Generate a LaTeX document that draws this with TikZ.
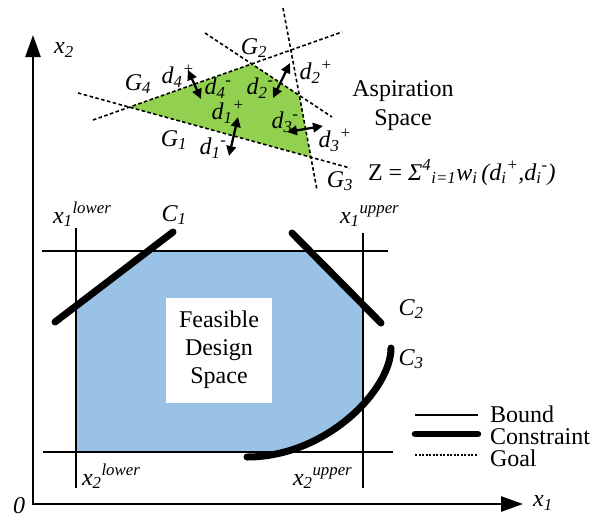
\documentclass[tikz,border=0pt]{standalone}
\usepackage{fontspec}
\setmainfont{Liberation Serif}
\usetikzlibrary{arrows.meta}
\definecolor{feas}{RGB}{153,194,230}
\definecolor{asp}{RGB}{146,208,80}
\begin{document}
\begin{tikzpicture}[x=1pt,y=-1pt,
  font=\fontsize{24}{28}\selectfont,
  bound/.style={line width=1.8pt},
  constr/.style={line width=7pt, line cap=round},
  goal/.style={line width=1.6pt, dash pattern=on 3.5pt off 2.5pt},
  axisline/.style={line width=2.6pt, line join=miter,
    {Triangle[length=22pt,width=15pt]}-{Triangle[length=22pt,width=15pt]}},
  dev/.style={line width=2.3pt,
    {Triangle[length=10pt,width=9.5pt]}-{Triangle[length=10pt,width=9.5pt]}},
  lbl/.style={inner sep=0pt, outer sep=0pt}]
\useasboundingbox (0,0) rectangle (608,520);

% ---------- coordinates ----------
\coordinate (O) at (33,504);
\coordinate (ytip) at (33,35);
\coordinate (xtip) at (523,504);
% bounds
\coordinate (uhL) at (42,251);  \coordinate (uhR) at (388,251);
\coordinate (lhL) at (43,452);  \coordinate (lhR) at (393,452);
\coordinate (lvT) at (76,228);  \coordinate (lvB) at (76,488);
\coordinate (rvT) at (363,233); \coordinate (rvB) at (363,488);
% constraints
\coordinate (c1a) at (55,322);  \coordinate (c1b) at (173,232);
\coordinate (c2a) at (292,233); \coordinate (c2b) at (381,323);
\coordinate (c3a) at (247,457); \coordinate (c3b) at (391,348);
% goals
\coordinate (g1a) at (78,93);   \coordinate (g1b) at (350,168);
\coordinate (g4a) at (93,120);  \coordinate (g4b) at (342,32);
\coordinate (g2a) at (205,33);  \coordinate (g2b) at (332,117);
\coordinate (g3a) at (283,8);   \coordinate (g3b) at (317,190);
\coordinate (v4) at (intersection of g1a--g1b and g4a--g4b);
\coordinate (v2) at (intersection of g4a--g4b and g2a--g2b);
\coordinate (v23) at (intersection of g2a--g2b and g3a--g3b);
\coordinate (v3) at (intersection of g1a--g1b and g3a--g3b);

% ---------- feasible region ----------
\begin{scope}
  \clip (c3a) .. controls (326,457) and (391,390) .. (c3b) -- (391,200) -- (0,200) -- (0,457) -- cycle;
  \fill[feas] (76,305) -- (148,251) -- (308,251) -- (363,305) -- (363,452) -- (76,452) -- cycle;
\end{scope}

% ---------- aspiration polygon ----------
\fill[asp] (v4) -- (v2) -- (v23) -- (v3) -- cycle;
\draw[goal] (g1a) -- (g1b);
\draw[goal] (g4a) -- (g4b);
\draw[goal] (g2a) -- (g2b);
\draw[goal] (g3a) -- (g3b);

% ---------- bounds ----------
\draw[bound] (uhL) -- (uhR);
\draw[bound] (lhL) -- (lhR);
\draw[bound] (lvT) -- (lvB);
\draw[bound] (rvT) -- (rvB);

% ---------- constraints ----------
\draw[constr] (c1a) -- (c1b);
\draw[constr] (c2a) -- (c2b);
\draw[constr] (c3a) .. controls (326,457) and (391,390) .. (c3b);

% ---------- axes ----------
\draw[axisline] (ytip) -- (O) -- (xtip);
\node[lbl] (lx2) at (64,50) {\textit{x\textsubscript{2}}};
\node[lbl] (lx1) at (543,503) {\textit{x\textsubscript{1}}};
\node[lbl] (l0) at (19,506) {\textit{0}};

% ---------- bound labels ----------
\node[lbl, anchor=base west] (x1lo) at (53,223) {\textit{x\textsubscript{1}\textsuperscript{lower}}};
\node[lbl, anchor=base west] (x1up) at (340,223) {\textit{x\textsubscript{1}\textsuperscript{upper}}};
\node[lbl, anchor=base west] (x2lo) at (82,485) {\textit{x\textsubscript{2}\textsuperscript{lower}}};
\node[lbl, anchor=base west] (x2up) at (293,485) {\textit{x\textsubscript{2}\textsuperscript{upper}}};

% ---------- constraint labels ----------
\node[lbl] (lc1) at (174,215) {\textit{C\textsubscript{1}}};
\node[lbl] (lc2) at (411,309) {\textit{C\textsubscript{2}}};
\node[lbl] (lc3) at (411,359) {\textit{C\textsubscript{3}}};

% ---------- feasible design space ----------
\node[fill=white, minimum width=106pt, minimum height=105pt, align=center, inner sep=0pt]
  (fds) at (219,350) {Feasible\\Design\\Space};

% ---------- goal labels ----------
\node[lbl] (lg1) at (174,140) {\textit{G\textsubscript{1}}};
\node[lbl] (lg2) at (254,48) {\textit{G\textsubscript{2}}};
\node[lbl] (lg3) at (340,181) {\textit{G\textsubscript{3}}};
\node[lbl] (lg4) at (138,84) {\textit{G\textsubscript{4}}};

% ---------- deviation arrows ----------
\coordinate (d4a) at (188,70);  \coordinate (d4b) at (201,99);
\coordinate (d2a) at (290,63);  \coordinate (d2b) at (273,98);
\coordinate (d1a) at (238,117); \coordinate (d1b) at (229,156);
\coordinate (d3a) at (287,132); \coordinate (d3b) at (323,126);
\draw[dev] (d4a) -- (d4b);
\draw[dev] (d2a) -- (d2b);
\draw[dev] (d1a) -- (d1b);
\draw[dev] (d3a) -- (d3b);

\node[lbl] (ld4p) at (178,76) {\textit{d\textsubscript{4}\textsuperscript{+}}};
\node[lbl] (ld4m) at (218,88) {\textit{d\textsubscript{4}\textsuperscript{-}}};
\node[lbl] (ld2m) at (260,88) {\textit{d\textsubscript{2}\textsuperscript{-}}};
\node[lbl] (ld2p) at (316,72) {\textit{d\textsubscript{2}\textsuperscript{+}}};
\node[lbl] (ld1p) at (228,112) {\textit{d\textsubscript{1}\textsuperscript{+}}};
\node[lbl] (ld1m) at (213,148) {\textit{d\textsubscript{1}\textsuperscript{-}}};
\node[lbl] (ld3m) at (285,122) {\textit{d\textsubscript{3}\textsuperscript{-}}};
\node[lbl] (ld3p) at (335,140) {\textit{d\textsubscript{3}\textsuperscript{+}}};

% ---------- aspiration text and formula ----------
\node[lbl, align=center, font=\fontsize{24}{29}\selectfont] (asptxt) at (403,106) {Aspiration\\Space};
\node[lbl, anchor=base west] (formula) at (368,180)
  {Z = \textit{Σ\textsuperscript{4}\textsubscript{i=1}w\textsubscript{i}\,(d\textsubscript{i}\textsuperscript{+},d\textsubscript{i}\textsuperscript{-})}};

% ---------- legend ----------
\coordinate (lb1) at (415,415); \coordinate (lb2) at (478,415);
\coordinate (lc1a) at (415,434); \coordinate (lc1b) at (478,434);
\coordinate (lg1a) at (415,455); \coordinate (lg1b) at (478,455);
\draw[bound] (lb1) -- (lb2);
\draw[line width=6.5pt, line cap=round] (lc1a) -- (lc1b);
\draw[line width=1.2pt, dash pattern=on 2pt off 1.5pt] (lg1a) -- (lg1b);
\node[lbl, anchor=base west] (tb) at (490,422) {Bound};
\node[lbl, anchor=base west] (tc) at (490,444) {Constraint};
\node[lbl, anchor=base west] (tg) at (490,466) {Goal};
\end{tikzpicture}
\end{document}
